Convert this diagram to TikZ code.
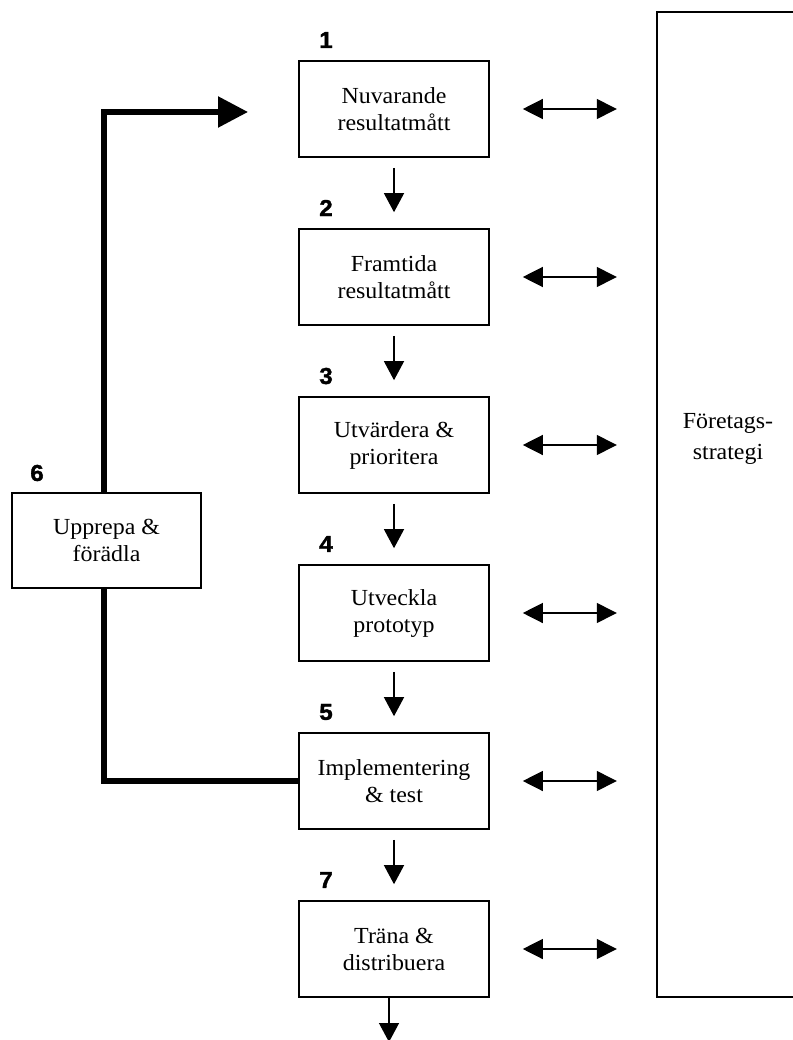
\documentclass[tikz,border=0pt]{standalone}
\usepackage{fontspec}
\setmainfont{Liberation Serif}[FakeStretch=1.04]
\newfontfamily\numfont{Liberation Sans}[FakeStretch=1.05,FakeBold=1.6]
\usetikzlibrary{arrows.meta,calc}

\tikzset{
  stepbox/.style={draw, line width=1.6pt, minimum width=190pt, minimum height=96pt,
    inner sep=0pt, align=center, font=\fontsize{23}{27}\selectfont},
  stepnum/.style={font=\numfont\bfseries\fontsize{23}{23}\selectfont, inner sep=0pt},
  flow/.style={line width=1.3pt, -{Triangle[length=19pt,width=20pt]}},
  link/.style={line width=1.3pt, {Triangle[length=20pt,width=20pt]}-{Triangle[length=20pt,width=20pt]}},
  loopline/.style={line width=5.5pt, line join=miter},
}

\begin{document}
\begin{tikzpicture}[x=1pt,y=-1pt]
  \useasboundingbox (0,0) rectangle (792,1040);

  % main chain of steps
  \node[stepbox] (b1) at (394,109) {Nuvarande\\resultatmått};
  \node[stepbox] (b2) at (394,277) {Framtida\\resultatmått};
  \node[stepbox] (b3) at (394,445) {Utvärdera \&\\prioritera};
  \node[stepbox] (b4) at (394,613) {Utveckla\\prototyp};
  \node[stepbox] (b5) at (394,781) {Implementering\\\& test};
  \node[stepbox] (b7) at (394,949) {Träna \&\\distribuera};
  \node[stepbox, minimum width=189pt, minimum height=95pt] (b6) at (106.5,540.5) {Upprepa \&\\förädla};

  % step numbers
  \node[stepnum] (n1) at (326,40) {1};
  \node[stepnum] (n2) at (326,208) {2};
  \node[stepnum] (n3) at (326,376) {3};
  \node[stepnum] (n4) at (326,544) {4};
  \node[stepnum] (n5) at (326,712) {5};
  \node[stepnum] (n7) at (326,880) {7};
  \node[stepnum] (n6) at (37,473) {6};

  % strategy panel
  \draw[line width=1.6pt] (657,12) rectangle (800,997);
  \node[align=center, font=\fontsize{23}{31}\selectfont] (strat) at (728,439) {Företags-\\strategi};

  % downward flow
  \foreach \a/\b in {b1/b2,b2/b3,b3/b4,b4/b5,b5/b7}
    \draw[flow] ($(\a.south)+(0,10)$) -- ($(\b.north)+(0,-16)$);
  \coordinate (out) at (389,1042);
  \draw[flow] (b7.south -| out) -- (out);

  % links to the strategy panel
  \foreach \s in {b1,b2,b3,b4,b5,b7}
    \draw[link] ($(\s.east)+(33,0)$) -- ($(\s.east)+(127,0)$);

  % feedback loop
  \coordinate (lx) at (104,0);
  \coordinate (tip) at (248,112);
  \draw[loopline] (b5.west) -| (b6.south -| lx);
  \draw[loopline, -{Triangle[length=30pt,width=30pt]}] (b6.north -| lx) |- (tip);
\end{tikzpicture}
\end{document}
